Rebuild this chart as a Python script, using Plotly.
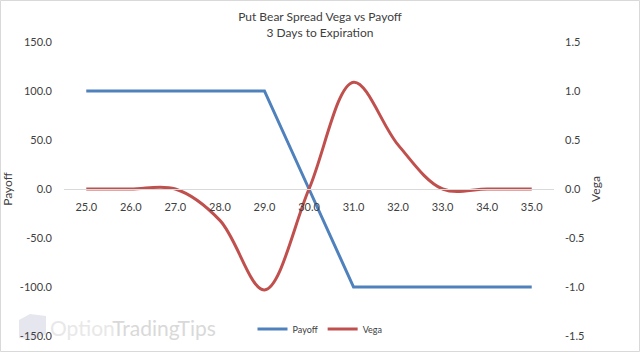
import plotly.graph_objects as go

prices = [25, 26, 27, 28, 29, 30, 31, 32, 33, 34, 35]
payoff = [100, 100, 100, 100, 100, 0, -100, -100, -100, -100, -100]
vega = [0.0, 0.0, 0.0, -0.32, -1.03, 0.0, 1.09, 0.45, 0.0, 0.0, 0.0]

left_ticks = [-150, -100, -50, 0, 50, 100, 150]
right_ticks = [-1.5, -1.0, -0.5, 0.0, 0.5, 1.0, 1.5]

BLUE = "#4F81BD"
RED = "#C0504D"
TXT = "#404040"
FONT = "Lato"

fig = go.Figure()
fig.add_trace(go.Scatter(x=prices, y=payoff, name="Payoff", mode="lines",
                         line=dict(color=BLUE, width=3), yaxis="y"))
fig.add_trace(go.Scatter(x=prices, y=vega, name="Vega", mode="lines",
                         line=dict(color=RED, width=3, shape="spline", smoothing=1.0),
                         yaxis="y2"))

L, R, T, B = 64, 86, 42, 16
W, H = 640, 352
pw, ph = W - L - R, H - T - B

def px_x(p):
    return (p - L) / pw

def px_y(p):
    return (H - B - p) / ph

fig.update_layout(
    width=W, height=H,
    margin=dict(l=L, r=R, t=T, b=B, autoexpand=False),
    paper_bgcolor="white", plot_bgcolor="white",
    font=dict(family=FONT, color=TXT, size=11),
    title=dict(text="Put Bear Spread Vega vs Payoff<br>3 Days to Expiration",
               x=0.5, xref="container", xanchor="center",
               y=1 - 21 / H, yref="container", yanchor="top",
               font=dict(family=FONT, size=12, color=TXT)),
    xaxis=dict(range=[24.5, 35.5], tickvals=prices,
               ticktext=[f"{p:.1f}" for p in prices],
               showgrid=False, zeroline=False, showline=True, linecolor="#D9D9D9",
               linewidth=1, anchor="free", position=0.5, ticks="",
               ticklabelstandoff=8, tickfont=dict(size=11, color=TXT)),
    yaxis=dict(range=[-150, 150], tickvals=left_ticks,
               ticktext=[f"{v:.1f}" for v in left_ticks],
               showgrid=False, zeroline=False, showline=False,
               ticklabelstandoff=11,
               title=dict(text="Payoff", font=dict(size=12, color=TXT), standoff=10)),
    yaxis2=dict(range=[-1.5, 1.5], tickvals=right_ticks,
                ticktext=[f"{v:.1f}" for v in right_ticks],
                overlaying="y", side="right",
                showgrid=False, zeroline=False, showline=False,
                ticklabelstandoff=10,
                title=dict(text="Vega", font=dict(size=12, color=TXT), standoff=7)),
    legend=dict(orientation="h", x=0.5, xref="container", xanchor="center",
                y=1 - 329 / H, yref="container", yanchor="middle",
                font=dict(size=9, color=TXT), itemwidth=30,
                bgcolor="rgba(0,0,0,0)"),
    showlegend=True,
)

# outer chart border
fig.add_shape(type="rect", xref="paper", yref="paper",
              x0=px_x(0.5), x1=px_x(639.5), y0=px_y(351.5), y1=px_y(0.5),
              line=dict(color="#D9D9D9", width=1), layer="below")

# watermark
fig.add_annotation(xref="paper", yref="paper", x=px_x(48), y=px_y(327),
                   xanchor="left", yanchor="middle", showarrow=False,
                   text="<span style='color:#e8e8e8'>Option</span><span style='color:#d9d9d9'>TradingTips</span>",
                   font=dict(family=FONT, size=21))
fig.add_shape(type="path", xref="paper", yref="paper",
              path=f"M {px_x(19)} {px_y(338)} L {px_x(19)} {px_y(320)} L {px_x(30)} {px_y(314)} "
                   f"L {px_x(46)} {px_y(316)} L {px_x(46)} {px_y(334)} L {px_x(34)} {px_y(340)} Z",
              fillcolor="#e6e6ef", line=dict(width=0), layer="below")

fig.write_html("out.html")
